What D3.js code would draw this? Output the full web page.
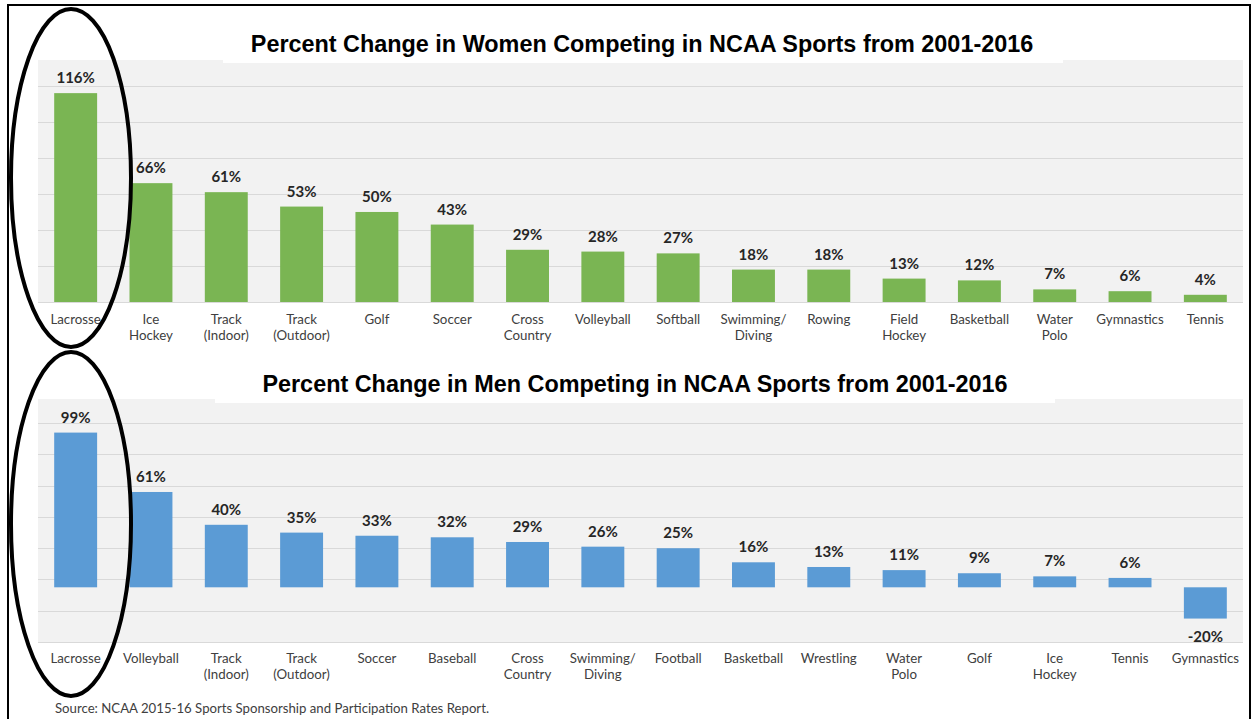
<!DOCTYPE html>
<html>
<head>
<meta charset="utf-8">
<title>NCAA Percent Change</title>
<script src="https://cdn.jsdelivr.net/npm/d3@7"></script>
<style>
  body { margin: 0; background: #fff; }
  .title { font-family: "Liberation Sans", Arial, sans-serif; font-weight: bold; font-size: 23.4px; fill: #000; }
  .val { font-family: Lato, "Open Sans", sans-serif; font-weight: bold; font-size: 15px; fill: #262626; }
  .cat { font-family: Lato, "Open Sans", sans-serif; font-size: 13.3px; fill: #404040; }
  .src { font-family: Lato, "Open Sans", sans-serif; font-size: 13.2px; fill: #404040; }
</style>
</head>
<body>
<script>
// women, 2001-2016
var womenSports = ["Lacrosse", "Ice\nHockey", "Track\n(Indoor)", "Track\n(Outdoor)", "Golf", "Soccer",
  "Cross\nCountry", "Volleyball", "Softball", "Swimming/\nDiving", "Rowing", "Field\nHockey",
  "Basketball", "Water\nPolo", "Gymnastics", "Tennis"];
var womenChange = [116, 66, 61, 53, 50, 43, 29, 28, 27, 18, 18, 13, 12, 7, 6, 4];

// men, 2001-2016
var menSports = ["Lacrosse", "Volleyball", "Track\n(Indoor)", "Track\n(Outdoor)", "Soccer", "Baseball",
  "Cross\nCountry", "Swimming/\nDiving", "Football", "Basketball", "Wrestling", "Water\nPolo",
  "Golf", "Ice\nHockey", "Tennis", "Gymnastics"];
var menChange = [99, 61, 40, 35, 33, 32, 29, 26, 25, 16, 13, 11, 9, 7, 6, -20];

var womenTicks = [0, 20, 40, 60, 80, 100, 120];
var menTicks = [-35, -15, 5, 25, 45, 65, 85, 105];

var titles = ["Percent Change in Women Competing in NCAA Sports from 2001-2016",
  "Percent Change in Men Competing in NCAA Sports from 2001-2016"];
var source = "Source: NCAA 2015-16 Sports Sponsorship and Participation Rates Report.";

var W = 1257, H = 719;
var svg = d3.select("body").append("svg").attr("width", W).attr("height", H);

// outer frame
svg.append("rect").attr("x", 8).attr("y", 5).attr("width", 1242).attr("height", 730)
  .attr("fill", "none").attr("stroke", "#000").attr("stroke-width", 2);

function drawChart(cfg) {
  var g = svg.append("g");
  var x = d3.scaleBand().domain(cfg.cats).range([38, 1243])
    .paddingInner(0.43).paddingOuter(0.215);
  var y = d3.scaleLinear().domain(cfg.domain).range([cfg.bottom, cfg.top]);

  // plot area
  g.append("rect").attr("x", 38).attr("y", cfg.top).attr("width", 1205)
    .attr("height", cfg.bottom - cfg.top).attr("fill", "#f2f2f2");

  // title box sits over the plot area
  g.append("rect").attr("x", cfg.tbox[0]).attr("y", cfg.tbox[1])
    .attr("width", cfg.tbox[2] - cfg.tbox[0]).attr("height", cfg.tbox[3] - cfg.tbox[1])
    .attr("fill", "#fff");
  g.append("text").attr("class", "title").attr("x", cfg.tx).attr("y", cfg.ty)
    .attr("text-anchor", "middle").text(cfg.title);

  // gridlines
  g.selectAll(".grid").data(cfg.ticks).enter().append("line")
    .attr("x1", 38).attr("x2", 1243)
    .attr("y1", function(d){ return Math.round(y(d)) + 0.5; })
    .attr("y2", function(d){ return Math.round(y(d)) + 0.5; })
    .attr("stroke", "#d9d9d9").attr("stroke-width", 1);

  // bars
  g.selectAll(".bar").data(cfg.vals).enter().append("rect")
    .attr("x", function(d, i){ return x(cfg.cats[i]); })
    .attr("width", x.bandwidth())
    .attr("y", function(d){ return y(Math.max(0, d)); })
    .attr("height", function(d){ return Math.abs(y(d) - y(0)); })
    .attr("fill", cfg.color);

  // value labels
  g.selectAll(".val").data(cfg.vals).enter().append("text").attr("class", "val")
    .attr("text-anchor", "middle")
    .attr("x", function(d, i){ return x(cfg.cats[i]) + x.bandwidth() / 2; })
    .attr("y", function(d){ return d >= 0 ? y(d) - 10 : y(d) + 23; })
    .text(function(d){ return d + "%"; });

  // category labels
  var cl = g.selectAll(".cat").data(cfg.cats).enter().append("text").attr("class", "cat")
    .attr("text-anchor", "middle")
    .attr("x", function(d){ return x(d) + x.bandwidth() / 2; })
    .attr("y", cfg.labelY);
  cl.each(function(d) {
    var t = d3.select(this), xx = +t.attr("x");
    d.split("\n").forEach(function(line, k) {
      t.append("tspan").attr("x", xx).attr("dy", k ? 16 : 0).text(line);
    });
  });
}

drawChart({
  cats: womenSports, vals: womenChange, ticks: womenTicks,
  domain: [0, 134.4], top: 60, bottom: 302, color: "#7ab553",
  title: titles[0], tx: 642, ty: 52, tbox: [223, 24, 1063, 63], labelY: 324
});

drawChart({
  cats: menSports, vals: menChange, ticks: menTicks,
  domain: [-35, 120.5], top: 399, bottom: 642, color: "#5b9bd5",
  title: titles[1], tx: 635, ty: 392, tbox: [215, 364, 1055, 403], labelY: 663
});

svg.append("text").attr("class", "src").attr("x", 55).attr("y", 713).text(source);

// highlight ellipses round lacrosse
svg.append("ellipse").attr("cx", 71).attr("cy", 178).attr("rx", 60).attr("ry", 169)
  .attr("fill", "none").attr("stroke", "#000").attr("stroke-width", 4);
svg.append("ellipse").attr("cx", 71).attr("cy", 524).attr("rx", 60).attr("ry", 172)
  .attr("fill", "none").attr("stroke", "#000").attr("stroke-width", 4);
</script>
</body>
</html>
